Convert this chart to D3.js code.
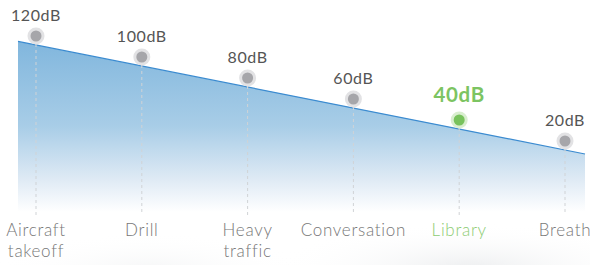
<!DOCTYPE html>
<html>
<head>
<meta charset="utf-8">
<script src="https://cdnjs.cloudflare.com/ajax/libs/d3/7.8.5/d3.min.js"></script>
<style>
body { margin: 0; background: #fff; }
svg { display: block; font-family: Lato, "Open Sans", sans-serif; }
</style>
</head>
<body>
<div class="chart"></div>
<script>
var categories = [["Aircraft", "takeoff"], ["Drill"], ["Heavy", "traffic"], ["Conversation"], ["Library"], ["Breath"]],
values = [120, 100, 80, 60, 40, 20],
labels = ["120dB", "100dB", "80dB", "60dB", "40dB", "20dB"],
highlight = 4;

var width = 590, height = 265;

var svg = d3.select(".chart").append("svg")
.attr("width", width)
.attr("height", height);

// index -> pixel, extrapolated for the area edges
var x = d3.scaleLinear()
.domain([0, values.length - 1])
.range([36, 565]);

var y = d3.scaleLinear()
.domain([20, 120])
.range([141, 36]);

var lineOffset = 9;
var edgeL = x.invert(18), edgeR = x.invert(585);
var dbAt = d3.scaleLinear().domain([0, values.length - 1]).range([values[0], values[values.length - 1]]);

var defs = svg.append("defs");
var grad = defs.append("linearGradient")
.attr("id", "fill")
.attr("gradientUnits", "userSpaceOnUse")
.attr("x1", 0).attr("y1", 40).attr("x2", 0).attr("y2", 212);
grad.append("stop").attr("offset", 0).attr("stop-color", "#80b6dd");
grad.append("stop").attr("offset", 0.5).attr("stop-color", "#a8cde7");
grad.append("stop").attr("offset", 0.8).attr("stop-color", "#dde9f4");
grad.append("stop").attr("offset", 1).attr("stop-color", "#ffffff");

var haze = defs.append("radialGradient")
.attr("id", "haze")
.attr("cx", 0.5).attr("cy", 0.5).attr("r", 0.5);
haze.append("stop").attr("offset", 0).attr("stop-color", "#e6e8ea").attr("stop-opacity", 0.7);
haze.append("stop").attr("offset", 1).attr("stop-color", "#ffffff").attr("stop-opacity", 0);

svg.append("ellipse")
.attr("cx", 470).attr("cy", 268).attr("rx", 200).attr("ry", 45)
.attr("fill", "url(#haze)");
svg.append("ellipse")
.attr("cx", 150).attr("cy", 268).attr("rx", 160).attr("ry", 35)
.attr("fill", "url(#haze)")
.attr("opacity", 0.5);

var linePts = [[x(edgeL), y(dbAt(edgeL)) + lineOffset], [x(edgeR), y(dbAt(edgeR)) + lineOffset]];

svg.append("path")
.attr("d", d3.area().x(function(d) { return d[0]; }).y0(212).y1(function(d) { return d[1]; })(linePts))
.attr("fill", "url(#fill)");

svg.append("path")
.attr("d", d3.line()(linePts))
.attr("fill", "none")
.attr("stroke", "#3b8bd0")
.attr("stroke-width", 1.2);

var pts = svg.selectAll(".pt")
.data(values)
.enter().append("g")
.attr("class", "pt")
.attr("transform", function(d, i) { return "translate(" + x(i) + "," + y(d) + ")"; });

pts.append("line")
.attr("y1", 8)
.attr("y2", function(d) { return 215 - y(d); })
.attr("stroke", "#d0d3d6")
.attr("stroke-width", 1)
.attr("stroke-dasharray", "3,3");

pts.append("circle")
.attr("r", 8.5)
.attr("fill", function(d, i) { return i == highlight ? "#d9eecf" : "#e2e2e4"; });

pts.append("circle")
.attr("r", 5.5)
.attr("fill", function(d, i) { return i == highlight ? "#78c25c" : "#a6a6aa"; });

pts.append("text")
.attr("text-anchor", "middle")
.attr("y", function(d, i) { return i == highlight ? -18 : -15; })
.attr("font-size", function(d, i) { return i == highlight ? 20.5 : 16; })
.attr("font-weight", function(d, i) { return i == highlight ? 700 : 400; })
.attr("letter-spacing", function(d, i) { return i == highlight ? 0.6 : 0.6; })
.attr("fill", function(d, i) { return i == highlight ? "#7cc462" : "#555"; })
.text(function(d, i) { return labels[i]; });

var cats = svg.selectAll(".cat")
.data(categories)
.enter().append("text")
.attr("class", "cat")
.attr("text-anchor", "middle")
.attr("transform", function(d, i) { return "translate(" + x(i) + ",236)"; })
.attr("font-size", 17)
.attr("font-weight", 300)
.attr("letter-spacing", 0.7)
.attr("fill", function(d, i) { return i == highlight ? "#8dcc72" : "#777"; });

cats.selectAll("tspan")
.data(function(d) { return d; })
.enter().append("tspan")
.attr("x", 0)
.attr("dy", function(d, i) { return i ? 21 : 0; })
.text(function(d) { return d; });
</script>
</body>
</html>
